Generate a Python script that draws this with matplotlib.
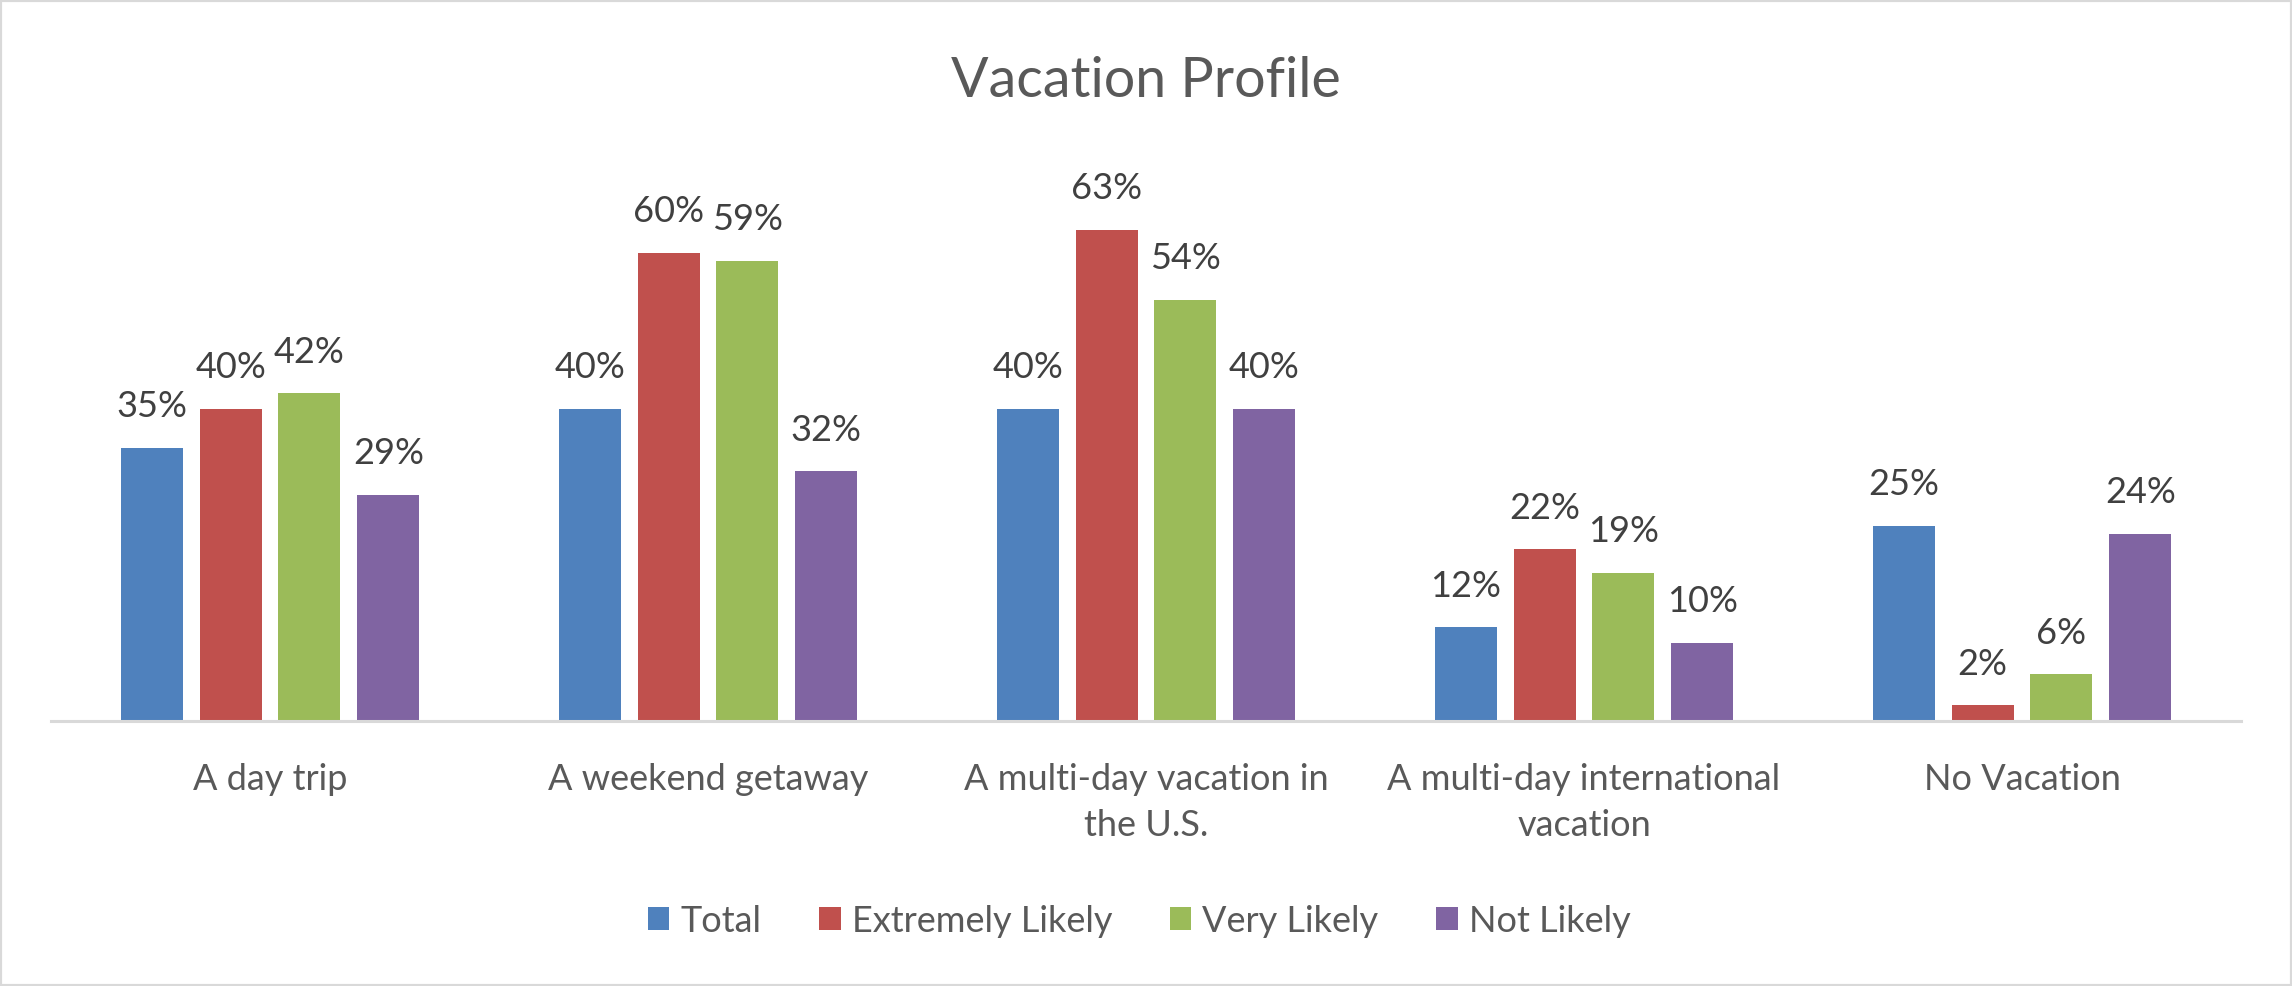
import numpy as np
import matplotlib
matplotlib.use("Agg")
import matplotlib.pyplot as plt
from matplotlib.patches import Patch, Rectangle

plt.rcParams["font.family"] = ["Lato", "DejaVu Sans"]

CATEGORIES = ["A day trip", "A weekend getaway", "A multi-day vacation in\nthe U.S.",
              "A multi-day international\nvacation", "No Vacation"]
SERIES = ["Total", "Extremely Likely", "Very Likely", "Not Likely"]
TOTAL = [35, 40, 40, 12, 25]
EXTREMELY_LIKELY = [40, 60, 63, 22, 2]
VERY_LIKELY = [42, 59, 54, 19, 6]
NOT_LIKELY = [29, 32, 40, 10, 24]

COLORS = ["#4F81BD", "#C0504D", "#9BBB59", "#8064A2"]
W, H = 2292, 986

fig = plt.figure(figsize=(W / 100, H / 100), dpi=100)
ax = fig.add_axes([51 / W, 1 - 721 / H, (2241 - 51) / W, (721 - 175) / H])

x = np.arange(len(CATEGORIES))
step, width = 0.18, 0.1416
for i, (vals, color) in enumerate(zip([TOTAL, EXTREMELY_LIKELY, VERY_LIKELY, NOT_LIKELY], COLORS)):
    pos = x + (i - 1.5) * step
    ax.bar(pos, vals, width=width, color=color, label=SERIES[i], zorder=2)
    for p, v in zip(pos, vals):
        ax.annotate(f"{v}%", (p, v), xytext=(0, 22), textcoords="offset points",
                    ha="center", va="baseline", fontsize=26, color="#404040")

ax.set_xlim(-0.5, len(CATEGORIES) - 0.5)
ax.set_ylim(0, 70)
ax.set_yticks([])
ax.set_xticks(x)
ax.set_xticklabels(CATEGORIES, fontsize=26, color="#595959", linespacing=1.5)
ax.tick_params(axis="x", length=0, pad=30)
for side in ["left", "right", "top"]:
    ax.spines[side].set_visible(False)
ax.spines["bottom"].set_color("#D9D9D9")
ax.spines["bottom"].set_linewidth(2.2)

fig.text(0.5, 1 - 97 / H, "Vacation Profile", ha="center", va="baseline",
         fontsize=40, color="#595959")

handles = [Patch(facecolor=c) for c in COLORS]
fig.legend(handles, SERIES, loc="center", bbox_to_anchor=(0.497, 1 - 921 / H), ncol=4,
           frameon=False, fontsize=26, labelcolor="#595959", handlelength=0.6,
           handleheight=0.6, handletextpad=0.3, columnspacing=1.6)

fig.patches.append(Rectangle((0, 0), 1, 1, transform=fig.transFigure, fill=False,
                             edgecolor="#D9D9D9", linewidth=3))

fig.savefig("out.png", dpi=100)
